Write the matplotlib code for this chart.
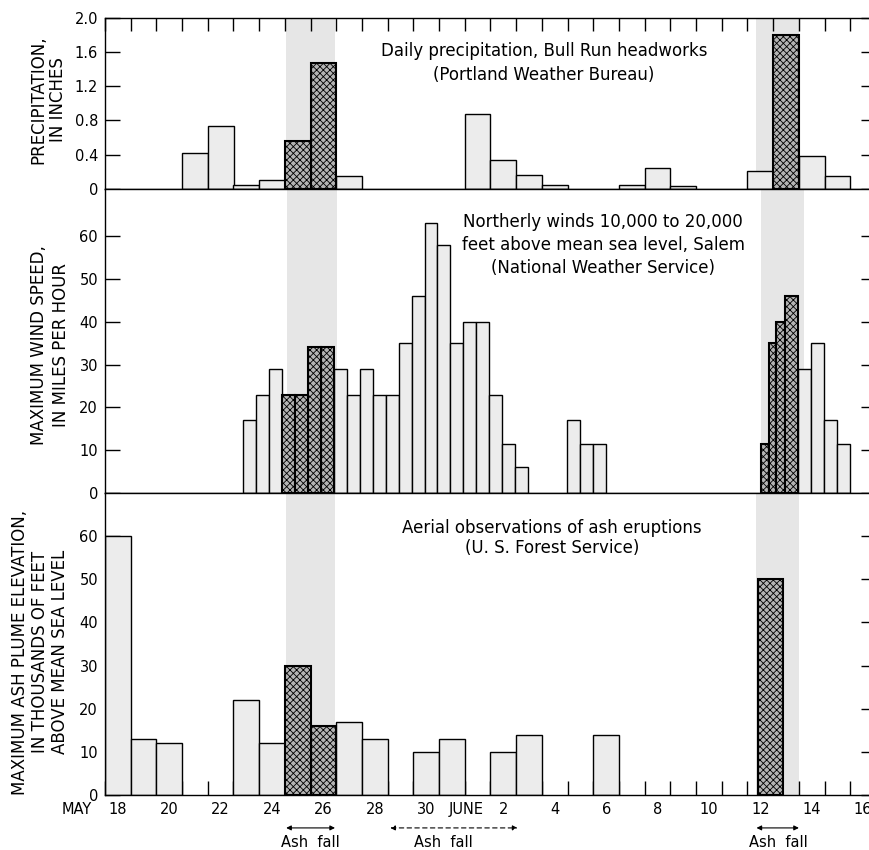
import matplotlib.pyplot as plt
import numpy as np

# x axis counts days of May (June d -> 31 + d)
precip_day = [21, 22, 23, 24, 25, 26, 27, 32, 33, 34, 35, 38, 39, 40, 43, 44, 45, 46]
precip_in = [0.42, 0.74, 0.05, 0.10, 0.56, 1.47, 0.15, 0.87, 0.34, 0.16, 0.05,
             0.05, 0.25, 0.03, 0.21, 1.80, 0.38, 0.15]
precip_ash = [0, 0, 0, 0, 1, 1, 0, 0, 0, 0, 0, 0, 0, 0, 0, 1, 0, 0]

# wind soundings, start time of each reading
wind_start = [22.85, 23.35, 23.85, 24.35, 24.85, 25.35, 25.85, 26.35, 26.85, 27.35, 27.85,
              28.35, 28.85, 29.35, 29.85, 30.35, 30.85, 31.35, 31.85, 32.35, 32.85, 33.35,
              35.35, 35.85, 36.35,
              42.85, 43.15, 43.42, 43.80, 44.30, 44.80, 45.30, 45.80]
wind_mph = [17, 23, 29, 23, 23, 34, 34, 29, 23, 29, 23,
            23, 35, 46, 63, 58, 35, 40, 40, 23, 11.5, 6,
            17, 11.5, 11.5,
            11.5, 35, 40, 46, 29, 35, 17, 11.5]
wind_ash = [0, 0, 0, 1, 1, 1, 1, 0, 0, 0, 0,
            0, 0, 0, 0, 0, 0, 0, 0, 0, 0, 0,
            0, 0, 0,
            1, 1, 1, 1, 0, 0, 0, 0]

plume_day = [18, 19, 20, 23, 24, 25, 26, 27, 28, 30, 31, 33, 34, 37, 43.4]
plume_kft = [60, 13, 12, 22, 12, 30, 16, 17, 13, 10, 13, 10, 14, 14, 50]
plume_ash = [0, 0, 0, 0, 0, 1, 1, 0, 0, 0, 0, 0, 0, 0, 1]

# ash fall periods
ash_start = [24.55, 28.6, 42.85]
ash_end = [26.45, 33.55, 44.5]
ash_dashed = [False, True, False]
ash_label_x = [25.5, 30.65, 43.7]

tick_pos = [18, 20, 22, 24, 26, 28, 30, 31.55, 33, 35, 37, 39, 41, 43, 45, 47]
tick_text = ['18', '20', '22', '24', '26', '28', '30', 'JUNE',
             '2', '4', '6', '8', '10', '12', '14', '16']

W, H = 870, 850
plt.rcParams['hatch.linewidth'] = 0.6
plt.rcParams['hatch.color'] = '#1a1a1a'
fig = plt.figure(figsize=(W / 100, H / 100), dpi=100)


def px_axes(top, bottom, left=105, right=876):
    return fig.add_axes([left / W, 1 - bottom / H, (right - left) / W, (bottom - top) / H])


ax1 = px_axes(17.5, 189)
ax2 = px_axes(189, 493)
ax3 = px_axes(493, 795)

light = '#ececec'
dark = '#b4b4b4'


def draw_bars(ax, left, height, width, ash):
    for x, h, w, a in zip(left, height, width, ash):
        if a:
            ax.bar(x, h, width=w, align='edge', facecolor=dark, edgecolor='black',
                   linewidth=1.5, hatch='xxxxx', zorder=3)
        else:
            ax.bar(x, h, width=w, align='edge', facecolor=light, edgecolor='black',
                   linewidth=1.0, zorder=2)


draw_bars(ax1, np.array(precip_day) - 0.5, precip_in, [1] * len(precip_day), precip_ash)

ws = np.array(wind_start)
nxt = np.append(ws[1:], ws[-1] + 1)
wind_w = np.minimum(nxt - ws, 0.5)
draw_bars(ax2, ws, wind_mph, wind_w, wind_ash)

draw_bars(ax3, np.array(plume_day) - 0.5, plume_kft, [1] * len(plume_day), plume_ash)

for ax in (ax1, ax2, ax3):
    ax.set_xlim(17.5, 47.3)
    for s, e, d in zip(ash_start, ash_end, ash_dashed):
        if not d:
            ax.axvspan(s, e, color='#e6e6e6', lw=0, zorder=0)
    for sp in ax.spines.values():
        sp.set_linewidth(1.0)
    ax.tick_params(axis='y', which='both', direction='in', length=11, width=1.0,
                   left=True, right=True, labelsize=10.5, pad=5)
    ax.tick_params(axis='x', which='both', length=0, labelbottom=False)

bounds = np.arange(17.5, 48, 1)

ax1.set_ylim(0, 2.0)
ax1.set_yticks([0, 0.4, 0.8, 1.2, 1.6, 2.0])
ax1.set_yticklabels(['0', '0.4', '0.8', '1.2', '1.6', '2.0'])
ax1.set_xticks(bounds)
ax1.tick_params(axis='x', which='major', direction='in', length=9, width=1.0,
                top=True, bottom=False, labeltop=False)

ax2.set_ylim(0, 71)
ax2.set_yticks([0, 10, 20, 30, 40, 50, 60])

ax3.set_ylim(0, 70)
ax3.set_yticks([0, 10, 20, 30, 40, 50, 60])
ax3.xaxis.remove_overlapping_locs = False
ax3.set_xticks(bounds)
ax3.set_xticks(tick_pos, tick_text, minor=True)
ax3.tick_params(axis='x', which='major', direction='in', length=10, width=1.0,
                bottom=True, labelbottom=False)
ax3.tick_params(axis='x', which='minor', length=0, labelbottom=True, labelsize=10.5, pad=5)
ax3.text(16.4, -0.047, 'MAY', transform=ax3.get_xaxis_transform(), ha='center', va='center',
         fontsize=10.5)

# ash fall arrows
for s, e, d, lx in zip(ash_start, ash_end, ash_dashed, ash_label_x):
    ax3.annotate('', xy=(e, -0.109), xytext=(s, -0.109), xycoords=ax3.get_xaxis_transform(),
                 textcoords=ax3.get_xaxis_transform(),
                 arrowprops=dict(arrowstyle='<|-|>', color='black', lw=0.8,
                                 linestyle=(0, (4, 3)) if d else '-',
                                 mutation_scale=7, shrinkA=0, shrinkB=0))
    ax3.text(lx, -0.156, 'Ash  fall', transform=ax3.get_xaxis_transform(), ha='center',
             va='center', fontsize=10.5)

# panel notes
fig.text(544 / W, 1 - 63 / H, 'Daily precipitation, Bull Run headworks\n(Portland Weather Bureau)',
         ha='center', va='center', fontsize=12, linespacing=1.4)
fig.text(603 / W, 1 - 245 / H, 'Northerly winds 10,000 to 20,000\nfeet above mean sea level, Salem\n'
         '(National Weather Service)', ha='center', va='center', fontsize=12, linespacing=1.35)
fig.text(552 / W, 1 - 538 / H, 'Aerial observations of ash eruptions\n(U. S. Forest Service)',
         ha='center', va='center', fontsize=12, linespacing=1.2)

# y labels
fig.text(48 / W, 1 - 100 / H, 'PRECIPITATION,\nIN INCHES', rotation=90, ha='center',
         va='center', fontsize=12, linespacing=1.15)
fig.text(50 / W, 1 - 345 / H, 'MAXIMUM WIND SPEED,\nIN MILES PER HOUR', rotation=90,
         ha='center', va='center', fontsize=12, linespacing=1.3)
fig.text(40 / W, 1 - 652 / H, 'MAXIMUM ASH PLUME ELEVATION,\nIN THOUSANDS OF FEET\n'
         'ABOVE MEAN SEA LEVEL', rotation=90, ha='center', va='center', fontsize=12,
         linespacing=1.15)

fig.savefig('out.png', dpi=100)
